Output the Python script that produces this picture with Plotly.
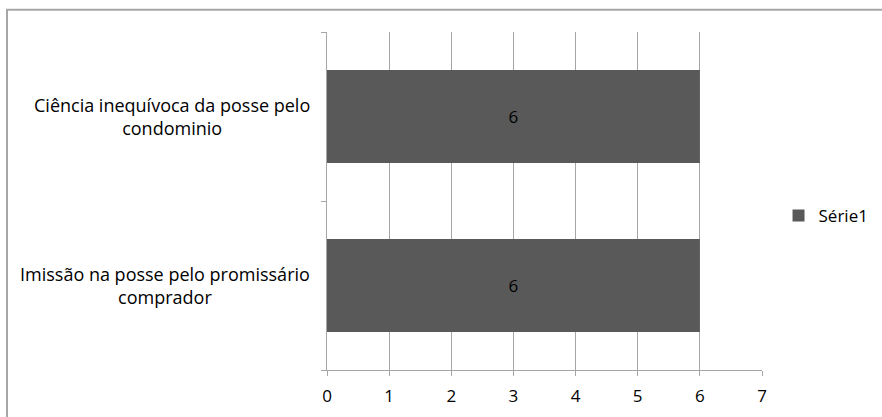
import plotly.graph_objects as go

# Categories (bottom to top) and their counts
categories = [
    "Imissão na posse pelo promissário comprador",
    "Ciência inequívoca da posse pelo condominio",
]
category_labels = [
    "Imissão na posse pelo promissário<br>comprador",
    "Ciência inequívoca da posse pelo<br>condominio",
]
values = [6, 6]
series_name = "Série1"
x_ticks = [0, 1, 2, 3, 4, 5, 6, 7]

FONT = "Open Sans"
BAR = "#595959"
GRID = "#a6a6a6"

fig = go.Figure()
fig.add_trace(go.Bar(
    y=categories,
    x=values,
    orientation="h",
    name=series_name,
    marker=dict(color=BAR, line=dict(width=0)),
    width=0.55,
    text=[str(v) for v in values],
    textposition="inside",
    insidetextanchor="middle",
    textfont=dict(family=FONT, size=17, color="#000000"),
    showlegend=True,
))

# Wrapped, centred category labels to the left of the axis
for cat, lab in zip(categories, category_labels):
    fig.add_annotation(
        x=-0.034, xref="paper", y=cat, yref="y",
        text=lab, showarrow=False, align="center",
        xanchor="right", yanchor="middle",
        font=dict(family=FONT, size=18, color="#000000"),
    )

# Outer chart frame (runs off the right and bottom edges)
fig.add_shape(
    type="rect", xref="paper", yref="paper",
    x0=-0.7356, x1=1.35, y0=-0.3, y1=1.066,
    line=dict(color="#a6a6a6", width=2), fillcolor="rgba(0,0,0,0)",
    layer="below",
)

fig.update_layout(
    width=882, height=417,
    margin=dict(l=327, r=120, t=32, b=47, autoexpand=False),
    paper_bgcolor="white", plot_bgcolor="white",
    font=dict(family=FONT, size=17, color="#000000"),
    bargap=0.45,
    legend=dict(
        x=1.038, y=0.456, xanchor="left", yanchor="middle",
        font=dict(family=FONT, size=17, color="#000000"),
        bgcolor="rgba(0,0,0,0)", itemwidth=30,
    ),
    xaxis=dict(
        range=[0, 7], tickvals=x_ticks, ticktext=[str(t) for t in x_ticks],
        showgrid=True, gridcolor=GRID, gridwidth=1,
        showline=True, linecolor=GRID, linewidth=1,
        ticks="outside", ticklen=5, tickcolor=GRID,
        ticklabelstandoff=6,
        zeroline=False, fixedrange=True,
        tickfont=dict(family=FONT, size=17, color="#000000"),
    ),
    yaxis=dict(
        type="category", categoryorder="array", categoryarray=categories,
        range=[-0.5, 1.5], showticklabels=False,
        showline=True, linecolor=GRID, linewidth=1,
        ticks="outside", ticklen=5, tickcolor=GRID, tickson="boundaries",
        showgrid=False, zeroline=False, fixedrange=True,
    ),
)

fig.write_html("out.html")
